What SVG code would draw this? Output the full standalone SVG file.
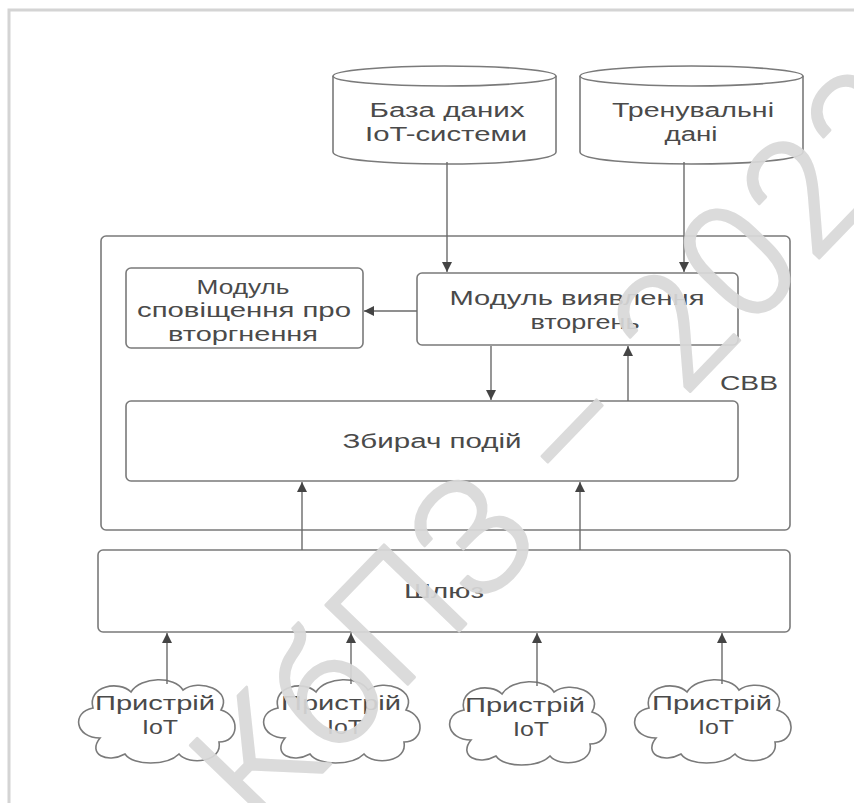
<svg xmlns="http://www.w3.org/2000/svg" width="854" height="803" viewBox="0 0 854 803">
<style>
.box{fill:#ffffff;stroke:#7a7a7a;stroke-width:1.6}
.t{font-family:"Liberation Sans",Arial,sans-serif;font-size:20px;fill:#4a4a4a;text-anchor:middle}
.edge{fill:none;stroke:#6a6a6a;stroke-width:1.4}
.wm{font-family:Roboto,"DejaVu Sans",sans-serif;font-size:160px;font-weight:300;fill:#d9d9d9;stroke:#d9d9d9;stroke-width:3;stroke-linejoin:round;opacity:0.92;letter-spacing:4px}
</style>
<defs>
<marker id="ah" viewBox="0 0 10 10" refX="10" refY="5" markerWidth="10" markerHeight="10" markerUnits="userSpaceOnUse" orient="auto">
<path d="M0,0 L10,5 L0,10 Z" fill="#444444"/>
</marker>
<path id="cloud" d="M -55,18 C -80,18 -84,-8 -62,-12 C -68,-34 -36,-40 -24,-28 C -14,-44 20,-44 28,-30 C 44,-42 78,-30 66,-10 C 86,-4 84,22 64,22 C 68,42 34,46 24,34 C 12,46 -22,46 -30,34 C -48,44 -68,34 -55,18 Z"/>
</defs>
<rect x="0" y="0" width="854" height="803" fill="#ffffff"/>
<rect x="9" y="10" width="870" height="820" fill="none" stroke="#d4d4d4" stroke-width="3"/>

<g id="cbb">
<rect class="box" x="101" y="236" width="689" height="294" rx="5"/>
<text class="t" x="749" y="390" textLength="58" lengthAdjust="spacingAndGlyphs">СВВ</text>
</g>

<g id="db-iot">
<path class="box" d="M333,76 L333,152 C333,168 556,168 556,152 L556,76"/>
<ellipse class="box" cx="444.5" cy="76" rx="111.5" ry="10"/>
<text class="t" x="447" y="117" textLength="155" lengthAdjust="spacingAndGlyphs">База даних</text>
<text class="t" x="446" y="141" textLength="162" lengthAdjust="spacingAndGlyphs">IoT-системи</text>
</g>

<g id="training-data">
<path class="box" d="M580,76 L580,152 C580,168 803,168 803,152 L803,76"/>
<ellipse class="box" cx="691.5" cy="76" rx="111.5" ry="10"/>
<text class="t" x="693" y="117" textLength="162" lengthAdjust="spacingAndGlyphs">Тренувальні</text>
<text class="t" x="691" y="141" textLength="53" lengthAdjust="spacingAndGlyphs">дані</text>
</g>

<g id="notify">
<rect class="box" x="126" y="268" width="237" height="80" rx="5"/>
<text class="t" x="243" y="294" textLength="93" lengthAdjust="spacingAndGlyphs">Модуль</text>
<text class="t" x="244" y="317" textLength="214" lengthAdjust="spacingAndGlyphs">сповіщення про</text>
<text class="t" x="243" y="341" textLength="150" lengthAdjust="spacingAndGlyphs">вторгнення</text>
</g>

<g id="detect">
<rect class="box" x="417" y="273" width="321" height="72" rx="5"/>
<text class="t" x="577" y="305" textLength="255" lengthAdjust="spacingAndGlyphs">Модуль виявлення</text>
<text class="t" x="585" y="329" textLength="109" lengthAdjust="spacingAndGlyphs">вторгень</text>
</g>

<g id="collector">
<rect class="box" x="126" y="401" width="612" height="80" rx="5"/>
<text class="t" x="432" y="448" textLength="179" lengthAdjust="spacingAndGlyphs">Збирач подій</text>
</g>

<g id="gateway">
<rect class="box" x="98" y="550" width="692" height="82" rx="5"/>
<text class="t" x="444" y="598" textLength="80" lengthAdjust="spacingAndGlyphs">Шлюз</text>
</g>

<g id="device1">
<use href="#cloud" class="box" transform="translate(155,720)"/>
<text class="t" x="155" y="710" textLength="120" lengthAdjust="spacingAndGlyphs">Пристрій</text>
<text class="t" x="160" y="734" textLength="36" lengthAdjust="spacingAndGlyphs">IoT</text>
</g>
<g id="device2">
<use href="#cloud" class="box" transform="translate(340,720)"/>
<text class="t" x="341" y="710" textLength="120" lengthAdjust="spacingAndGlyphs">Пристрій</text>
<text class="t" x="345" y="734" textLength="36" lengthAdjust="spacingAndGlyphs">IoT</text>
</g>
<g id="device3">
<use href="#cloud" class="box" transform="translate(526,722)"/>
<text class="t" x="525" y="712" textLength="120" lengthAdjust="spacingAndGlyphs">Пристрій</text>
<text class="t" x="531" y="736" textLength="36" lengthAdjust="spacingAndGlyphs">IoT</text>
</g>
<g id="device4">
<use href="#cloud" class="box" transform="translate(711,720)"/>
<text class="t" x="712" y="710" textLength="120" lengthAdjust="spacingAndGlyphs">Пристрій</text>
<text class="t" x="716" y="734" textLength="36" lengthAdjust="spacingAndGlyphs">IoT</text>
</g>

<g id="connectors">
<path class="edge" d="M447,162 L447,272" marker-end="url(#ah)"/>
<path class="edge" d="M684,162 L684,272" marker-end="url(#ah)"/>
<path class="edge" d="M417,311 L364,311" marker-end="url(#ah)"/>
<path class="edge" d="M491,346 L491,400" marker-end="url(#ah)"/>
<path class="edge" d="M628,401 L628,346" marker-end="url(#ah)"/>
<path class="edge" d="M302,550 L302,482" marker-end="url(#ah)"/>
<path class="edge" d="M580,550 L580,482" marker-end="url(#ah)"/>
<path class="edge" d="M167,684 L167,633" marker-end="url(#ah)"/>
<path class="edge" d="M351,684 L351,633" marker-end="url(#ah)"/>
<path class="edge" d="M537,686 L537,633" marker-end="url(#ah)"/>
<path class="edge" d="M722,684 L722,633" marker-end="url(#ah)"/>
</g>

<text class="wm" transform="translate(262,835) rotate(-46)">КбПЗ – 2022</text>
</svg>
